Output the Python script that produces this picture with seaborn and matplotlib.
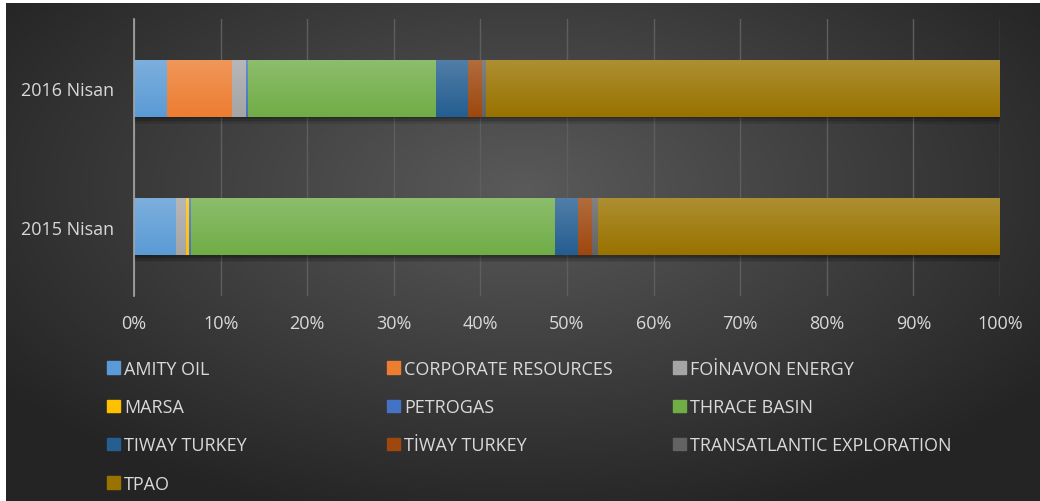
import numpy as np
import pandas as pd
import seaborn as sns
import matplotlib.pyplot as plt
import matplotlib.patheffects as pe
from matplotlib.ticker import PercentFormatter

# ---- data (percent share per company) ----
periods = ["2016 Nisan", "2015 Nisan"]
companies = ["AMITY OIL", "CORPORATE RESOURCES", "FOİNAVON ENERGY", "MARSA", "PETROGAS",
             "THRACE BASIN", "TIWAY TURKEY", "TİWAY TURKEY", "TRANSATLANTIC EXPLORATION", "TPAO"]
share_2016 = [3.8, 7.5, 1.65, 0.0, 0.23, 21.7, 3.66, 1.62, 0.46, 59.38]
share_2015 = [4.85, 0.0, 1.12, 0.42, 0.16, 42.07, 2.66, 1.62, 0.69, 46.41]
colors = ["#5B9BD5", "#ED7D31", "#A5A5A5", "#FFC000", "#4472C4",
          "#70AD47", "#255E91", "#9E480E", "#636363", "#997300"]

df = pd.DataFrame({"period": np.repeat(periods, len(companies)),
                   "company": companies * 2,
                   "share": share_2016 + share_2015})
df["cum"] = df.groupby("period")["share"].cumsum()

txt = "#d9d9d9"
fs = 13
fig = plt.figure(figsize=(10.4, 5.02), dpi=100)
fig.patch.set_facecolor("white")

# radial gradient background
bg = fig.add_axes([6 / 1040, 0, 1 - 6 / 1040, 1 - 4 / 502])
yy, xx = np.mgrid[-1:1:300j, -1:1:600j]
r = np.sqrt((xx / 1.0) ** 2 + ((yy + 0.25) / 1.1) ** 2)
val = np.clip(1 - r / 1.25, 0, 1)
lo, hi = np.array([0x24, 0x24, 0x24]) / 255, np.array([0x5a, 0x5a, 0x5a]) / 255
img = lo + (hi - lo) * val[..., None]
bg.imshow(img, aspect="auto", extent=[0, 1, 0, 1], origin="upper")
bg.set_axis_off()

ax = fig.add_axes([134 / 1040, 1 - 297 / 502, 866 / 1040, 277 / 502])
ax.set_facecolor("none")

# stacked bars: draw cumulative totals from last company to first
for i in range(len(companies) - 1, -1, -1):
    sub = df[df["company"] == companies[i]]
    sns.barplot(data=sub, x="cum", y="period", order=periods, orient="y",
                color=colors[i], width=0.41, ax=ax, zorder=3, saturation=1)

# soft (layered) shadow under the full-length bars, light sheen on top of all
full = ax.patches[:len(periods)]
for p in full:
    shadows = [pe.SimplePatchShadow(offset=(0, -k), alpha=0.09, shadow_rgbFace="black")
               for k in (1, 2, 3, 4, 5)]
    p.set_path_effects(shadows + [pe.Normal()])
for p in full:
    b = p.get_bbox()
    ov = np.ones((50, 1, 4))
    ov[..., 3] = np.linspace(0.2, 0.0, 50)[:, None]
    ax.imshow(ov, aspect="auto", extent=[b.x0, b.x1, b.y1, b.y0], zorder=4, origin="upper")

ax.set_xlim(0, 100)
ax.set_ylim(1.5, -0.5)
ax.xaxis.set_major_formatter(PercentFormatter(decimals=0))
ax.set_xticks(range(0, 101, 10))
ax.grid(axis="x", color="#5e5e5e", linewidth=1, zorder=0)
ax.set_axisbelow(True)
for s in ["top", "right", "bottom"]:
    ax.spines[s].set_visible(False)
ax.spines["left"].set_color("#a6a6a6")
ax.spines["left"].set_linewidth(1.2)
ax.spines["left"].set_zorder(5)
ax.tick_params(axis="both", length=0, colors=txt, labelsize=fs)
ax.tick_params(axis="x", pad=13)
ax.tick_params(axis="y", pad=14)
ax.set_xlabel("")
ax.set_ylabel("")
for t in ax.get_xticklabels() + ax.get_yticklabels():
    t.set_fontfamily("Open Sans")

# legend: three columns, filled row by row
handles = [plt.Rectangle((0, 0), 1, 1, color=c) for c in colors]
col_x = [107, 387, 673]
for c, x in enumerate(col_x):
    idx = list(range(c, len(companies), 3))
    leg = fig.legend([handles[k] for k in idx], [companies[k] for k in idx],
                     loc="upper left", bbox_to_anchor=(x / 1040, 1 - 361 / 502),
                     frameon=False, borderpad=0, borderaxespad=0,
                     handlelength=0.7, handleheight=0.7, handletextpad=0.25,
                     labelspacing=1.12, prop={"family": "Open Sans", "size": fs})
    for t in leg.get_texts():
        t.set_color(txt)

fig.savefig("out.png", dpi=100)
